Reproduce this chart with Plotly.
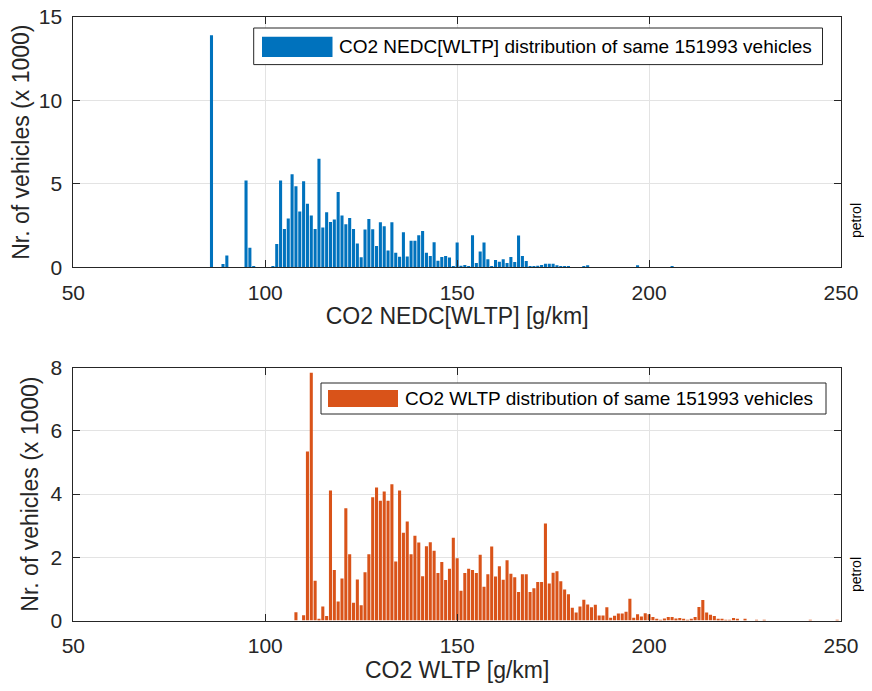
import plotly.graph_objects as go

# CO2 NEDC[WLTP] histogram, 1 g/km bins, counts in thousands
nedc_bins = [86, 89, 90, 95, 96, 97, 102, 103, 104, 105, 106, 107, 108, 109, 110,
             111, 112, 113, 114, 115, 116, 117, 118, 119, 120, 121, 122, 123, 124,
             125, 126, 127, 128, 129, 130, 131, 132, 133, 134, 135, 136, 137, 138,
             139, 140, 141, 142, 143, 144, 145, 146, 147, 148, 149, 150, 151, 152,
             153, 154, 155, 156, 157, 158, 159, 160, 161, 162, 163, 164, 165, 166,
             167, 168, 169, 170, 171, 172, 173, 174, 175, 176, 177, 178, 179, 180,
             183, 184, 197, 206]
nedc_counts = [13.9, 0.2, 0.71, 5.2, 1.17, 0.08, 0.08, 1.39, 5.2, 2.3, 2.92, 5.58, 4.86,
               3.35, 5.16, 3.81, 3.1, 2.3, 6.5, 2.38, 3.3, 2.72, 2.86, 4.52, 3.1, 2.58,
               2.96, 2.3, 1.43, 0.6, 2.26, 2.9, 2.28, 1.27, 2.7, 2.46, 1.0, 2.7, 0.87,
               0.63, 2.1, 0.65, 1.59, 1.59, 1.92, 2.18, 0.87, 0.67, 1.5, 0.4, 0.62,
               0.67, 0.58, 0.08, 1.49, 0.1, 0.14, 0.06, 1.92, 0.26, 0.95, 1.49, 0.48,
               0.06, 0.44, 0.34, 0.48, 0.26, 0.62, 0.32, 1.9, 0.67, 0.38, 0.06, 0.04,
               0.1, 0.14, 0.22, 0.22, 0.22, 0.12, 0.03, 0.02, 0.03, 0.01, 0.03, 0.12,
               0.12, 0.02]

# CO2 WLTP histogram
wltp_bins = [108, 110, 111, 112, 113, 114, 115, 116, 117, 118, 119, 120, 121, 122, 123,
             124, 125, 126, 127, 128, 129, 130, 131, 132, 133, 134, 135, 136, 137, 138,
             139, 140, 141, 142, 143, 144, 145, 146, 147, 148, 149, 150, 151, 152, 153,
             154, 155, 156, 157, 158, 159, 160, 161, 162, 163, 164, 165, 166, 167, 168,
             169, 170, 171, 172, 173, 174, 175, 176, 177, 178, 179, 180, 181, 182, 183,
             184, 185, 186, 187, 188, 189, 190, 191, 192, 193, 194, 195, 196, 197, 198,
             199, 200, 201, 202, 203, 204, 205, 206, 207, 208, 209, 210, 211, 212, 213,
             214, 215, 216, 217, 218, 219, 220, 221, 222, 223, 225, 228, 230, 242, 249]
wltp_counts = [0.26, 0.17, 5.35, 7.84, 1.26, 0.04, 0.44, 0.14, 4.11, 1.6, 0.6, 1.33, 3.55,
               2.1, 0.56, 1.3, 0.48, 1.53, 2.1, 3.9, 4.21, 3.79, 4.08, 3.79, 4.31, 1.87,
               4.11, 2.78, 3.13, 2.1, 2.68, 2.47, 1.4, 2.35, 2.48, 2.21, 1.5, 1.85, 1.28,
               1.64, 2.62, 1.97, 0.94, 1.5, 1.64, 1.6, 1.5, 2.08, 1.07, 1.46, 2.34, 1.39,
               1.72, 1.29, 1.91, 1.48, 1.37, 0.9, 1.46, 1.46, 0.9, 1.02, 1.22, 1.22, 3.07,
               1.17, 1.51, 1.56, 1.24, 0.98, 0.83, 0.4, 0.25, 0.44, 0.66, 0.51, 0.42, 0.5,
               0.16, 0.16, 0.42, 0.09, 0.15, 0.22, 0.22, 0.28, 0.69, 0.09, 0.2, 0.13, 0.23,
               0.2, 0.11, 0.04, 0.02, 0.06, 0.11, 0.11, 0.06, 0.08, 0.04, 0.02, 0.04, 0.11,
               0.43, 0.65, 0.25, 0.18, 0.14, 0.04, 0.04, 0.01, 0.02, 0.08, 0.04, 0.03, 0.02,
               0.02, 0.01, 0.01]

x_ticks = [50, 100, 150, 200, 250]
top_yticks = [0, 5, 10, 15]
bot_yticks = [0, 2, 4, 6, 8]

BLUE = "#0072BD"
ORANGE = "#D95319"
INK = "#262626"
FONT = "Liberation Sans, Arial, sans-serif"
# page body has an 8px margin; keep the figure inside the window so nothing scrolls
OFF = 8
W, H = 872 - 2 * OFF, 691 - 2 * OFF

def px(x):
    return (x - OFF) / W

def py(y):
    return 1 - (y - OFF) / H

fig = go.Figure()
fig.add_trace(go.Bar(x=nedc_bins, y=nedc_counts, marker=dict(color=BLUE, line_width=0),
                     width=0.8, xaxis="x", yaxis="y", showlegend=False))
fig.add_trace(go.Bar(x=wltp_bins, y=wltp_counts, marker=dict(color=ORANGE, line_width=0),
                     width=0.8, xaxis="x2", yaxis="y2", showlegend=False))

ax = dict(showline=True, linecolor=INK, linewidth=1, mirror="ticks", ticks="inside",
          ticklen=7, tickcolor=INK, showgrid=True, gridcolor="#e3e3e3", gridwidth=1,
          zeroline=False, automargin=False, ticklabelstandoff=6, ticklabeloverflow="allow",
          tickfont=dict(family=FONT, size=21, color=INK))
xdom = [px(73.3), px(841)]
tfont = dict(family=FONT, size=23, color=INK)

fig.update_layout(
    width=W, height=H, margin=dict(l=0, r=0, t=0, b=0),
    paper_bgcolor="white", plot_bgcolor="white", bargap=0.2,
    xaxis=dict(ax, domain=xdom, range=[50, 250], tickvals=x_ticks, anchor="y",
               title=dict(text="CO2 NEDC[WLTP] [g/km]", font=tfont, standoff=4)),
    yaxis=dict(ax, domain=[py(267.3), py(17)], range=[0, 15], tickvals=top_yticks, anchor="x",
               title=dict(text="Nr. of vehicles (x 1000)", font=tfont, standoff=5)),
    xaxis2=dict(ax, domain=xdom, range=[50, 250], tickvals=x_ticks, anchor="y2",
                title=dict(text="CO2 WLTP [g/km]", font=tfont, standoff=4)),
    yaxis2=dict(ax, domain=[py(620.5), py(367.7)], range=[0, 8], tickvals=bot_yticks, anchor="x2",
                title=dict(text="Nr. of vehicles (x 1000)", font=tfont, standoff=5)),
)

# legend boxes drawn like MATLAB's wide swatch legend
legends = [
    (253.7, 822.5, 28, 64.6, 262, 332.5, 36.7, 57, BLUE,
     "CO2 NEDC[WLTP] distribution of same 151993 vehicles"),
    (321, 826, 383, 414, 328, 398, 390, 407, ORANGE,
     "CO2 WLTP distribution of same 151993 vehicles"),
]
for bx0, bx1, by0, by1, sx0, sx1, sy0, sy1, col, label in legends:
    fig.add_shape(type="rect", xref="paper", yref="paper",
                  x0=px(bx0), x1=px(bx1), y0=py(by1), y1=py(by0),
                  line=dict(color=INK, width=1), fillcolor="white")
    fig.add_shape(type="rect", xref="paper", yref="paper",
                  x0=px(sx0), x1=px(sx1), y0=py(sy1), y1=py(sy0),
                  line=dict(width=0), fillcolor=col)
    fig.add_annotation(xref="paper", yref="paper", x=px(sx1 + 4.5), y=py((by0 + by1) / 2),
                       text=label, showarrow=False, xanchor="left", yanchor="middle",
                       font=dict(family=FONT, size=19, color="black"))

for yc in [221, 575]:
    fig.add_annotation(xref="paper", yref="paper", x=px(856), y=py(yc), text="petrol",
                       textangle=-90, showarrow=False, xanchor="center", yanchor="middle",
                       font=dict(family=FONT, size=14, color="black"))

fig.write_html("out.html")
